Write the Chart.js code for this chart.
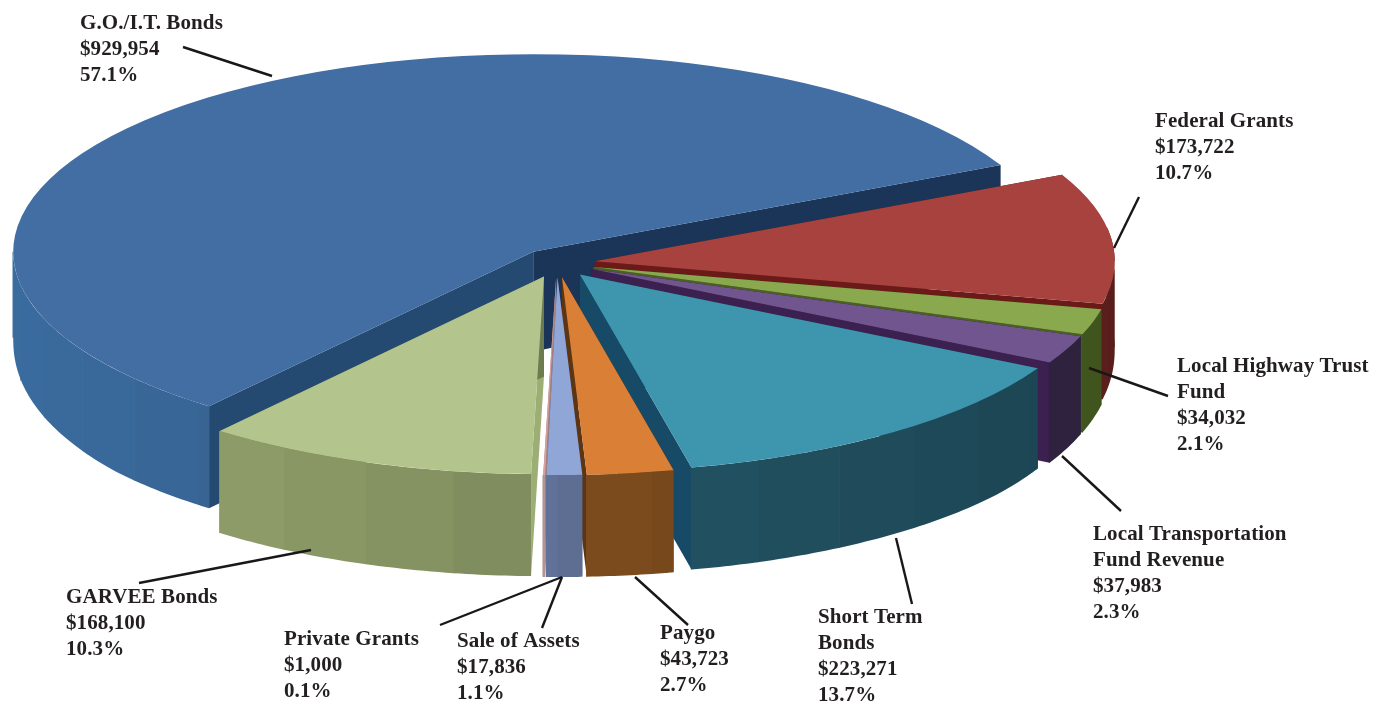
<!DOCTYPE html>
<html>
<head>
<meta charset="utf-8">
<script src="https://cdn.jsdelivr.net/npm/chart.js@4"></script>
<style>
    html, body { margin: 0; padding: 0; background: #fff; }
    #chart { display: block; }
</style>
</head>
<body>
<canvas id="chart" width="1387" height="703"></canvas>
<script>
const categories = ['Federal Grants', 'Local Highway Trust Fund', 'Local Transportation Fund Revenue', 'Short Term Bonds', 'Paygo', 'Sale of Assets', 'Private Grants', 'GARVEE Bonds', 'G.O./I.T. Bonds'];
const amounts = [173722, 34032, 37983, 223271, 43723, 17836, 1000, 168100, 929954];
const percents = ['10.7%', '2.1%', '2.3%', '13.7%', '2.7%', '1.1%', '0.1%', '10.3%', '57.1%'];

const topColors = ['#a8423f', '#8aa84d', '#70558f', '#3e95ae', '#da7f36', '#8fa6d6', '#d9a0a0', '#b3c58c', '#426ea3'];
const wallColors = ['#6f2522', '#4f6925', '#382a4c', '#235566', '#7e4c1e', '#5f7095', '#b09090', '#7e8b5c', '#315a84'];
const startCutColors = ['#4a1816', '#33441a', '#241a32', '#163a47', '#5e3512', '#47546f', '#a08080', '#9cae74', '#244a72'];
const endCutColors = ['#6b1a18', '#4d5f25', '#3b2050', '#174a66', '#5e3512', '#4f5f80', '#a08080', '#6e7b50', '#1a3558'];

// where the label block and its leader line sit, same order as categories
const labelLayout = [
    { x: 1155, y: 122, lines: ['Federal Grants'], leader: [1139, 197, 1114, 248] },
    { x: 1177, y: 367, lines: ['Local Highway Trust', 'Fund'], leader: [1168, 396, 1089, 368] },
    { x: 1093, y: 535, lines: ['Local Transportation', 'Fund Revenue'], leader: [1121, 511, 1062, 456] },
    { x: 818, y: 618, lines: ['Short Term', 'Bonds'], leader: [912, 604, 896, 538] },
    { x: 660, y: 634, lines: ['Paygo'], leader: [688, 625, 635, 577] },
    { x: 457, y: 642, lines: ['Sale of Assets'], leader: [542, 628, 562, 577] },
    { x: 284, y: 640, lines: ['Private Grants'], leader: [440, 625, 562, 577] },
    { x: 66, y: 598, lines: ['GARVEE Bonds'], leader: [139, 583, 311, 550] },
    { x: 80, y: 24, lines: ['G.O./I.T. Bonds'], leader: [183, 47, 272, 76] }
];

const pieCenter = { x: 557, y: 263 };
const pieRadius = 520;
const tilt = 0.38;
const explode = 38;

function shade(hex, f) {
    const n = parseInt(hex.slice(1), 16);
    const c = [n >> 16, (n >> 8) & 255, n & 255].map(v => Math.min(255, Math.round(v * f)));
    return `rgb(${c[0]},${c[1]},${c[2]})`;
}

function wallDepth(angle) {
    const s = Math.max(0, Math.sin(angle));
    return 86 + 16 * Math.min(1, Math.sqrt(s) * 1.3);
}

function midAngle(arc) {
    return (arc.startAngle + arc.endAngle) / 2;
}

function fillPoly(ctx, pts, color) {
    ctx.beginPath();
    pts.forEach((p, i) => i ? ctx.lineTo(p[0], p[1]) : ctx.moveTo(p[0], p[1]));
    ctx.closePath();
    ctx.fillStyle = color;
    ctx.fill();
}

// the side walls of each exploded slice, far slices first
function drawWalls(chart) {
    const ctx = chart.ctx;
    const arcs = chart.getDatasetMeta(0).data;
    const order = arcs.map((a, i) => i).sort((a, b) => Math.sin(midAngle(arcs[a])) - Math.sin(midAngle(arcs[b])));
    const bandSize = Math.PI / 18;
    order.forEach(i => {
        const arc = arcs[i];
        const mid = midAngle(arc);
        const ax = pieCenter.x + Math.cos(mid) * explode;
        const ay = pieCenter.y + Math.sin(mid) * explode * tilt;
        const rim = t => [ax + Math.cos(t) * pieRadius, ay + Math.sin(t) * pieRadius * tilt];
        const face = (t, color) => {
            const p = rim(t);
            fillPoly(ctx, [[ax, ay], p, [p[0], p[1] + wallDepth(t)], [ax, ay + 100]], color);
        };
        face(arc.startAngle, startCutColors[i]);
        face(arc.endAngle, endCutColors[i]);
        // outer wall, one flat colour per band of angle
        const firstBand = Math.floor(arc.startAngle / bandSize);
        const lastBand = Math.ceil(arc.endAngle / bandSize);
        for (let band = firstBand; band < lastBand; band++) {
            const from = Math.max(band * bandSize, arc.startAngle);
            const to = Math.min((band + 1) * bandSize, arc.endAngle);
            if (to <= from || Math.sin(to) < -0.1) continue;
            const upper = [], lower = [];
            for (let k = 0; k <= 12; k++) {
                const a = from + (to - from) * k / 12;
                const p = rim(a);
                upper.push(p);
                lower.unshift([p[0], p[1] + wallDepth(a)]);
            }
            // small overlap keeps the seams from showing white
            const left = upper[12];
            fillPoly(ctx, upper.concat([[left[0] - 0.7, left[1]], [left[0] - 0.7, left[1] + wallDepth(to)]], lower),
                shade(wallColors[i], 1 - 0.2 * Math.cos((band + 0.5) * bandSize)));
        }
    });
}

const pie3d = {
    id: 'pie3d',
    beforeDatasetsDraw(chart) {
        drawWalls(chart);
    },
    beforeDatasetDraw(chart) {
        // library draws the top faces, squashed into an ellipse and pushed apart
        const ctx = chart.ctx;
        const arcs = chart.getDatasetMeta(0).data;
        const scaleX = pieRadius / arcs[0].outerRadius;
        arcs.forEach(arc => {
            const mid = midAngle(arc);
            ctx.save();
            ctx.translate(pieCenter.x + Math.cos(mid) * explode, pieCenter.y + Math.sin(mid) * explode * tilt);
            ctx.scale(scaleX, scaleX * tilt);
            ctx.translate(-arc.x, -arc.y);
            arc.draw(ctx);
            ctx.restore();
        });
        return false;
    },
    afterDraw(chart) {
        const ctx = chart.ctx;
        ctx.save();
        ctx.strokeStyle = '#1a1718';
        ctx.lineWidth = 2.4;
        ctx.fillStyle = '#231f20';
        ctx.font = 'bold 21px "Liberation Serif"';
        ctx.letterSpacing = '0.1px';
        ctx.textBaseline = 'middle';
        labelLayout.forEach((label, i) => {
            const l = label.leader;
            ctx.beginPath();
            ctx.moveTo(l[0], l[1]);
            ctx.lineTo(l[2], l[3]);
            ctx.stroke();
            const rows = label.lines.concat('$' + amounts[i].toLocaleString('en-US'), percents[i]);
            rows.forEach((row, r) => ctx.fillText(row, label.x, label.y + r * 26));
        });
        ctx.restore();
    }
};

new Chart(document.getElementById('chart'), {
    type: 'pie',
    data: {
        labels: categories,
        datasets: [{
            data: amounts,
            backgroundColor: topColors,
            borderWidth: 0
        }]
    },
    options: {
        responsive: false,
        animation: false,
        rotation: 64,
        events: [],
        plugins: {
            legend: { display: false },
            tooltip: { enabled: false }
        }
    },
    plugins: [pie3d]
});
</script>
</body>
</html>
